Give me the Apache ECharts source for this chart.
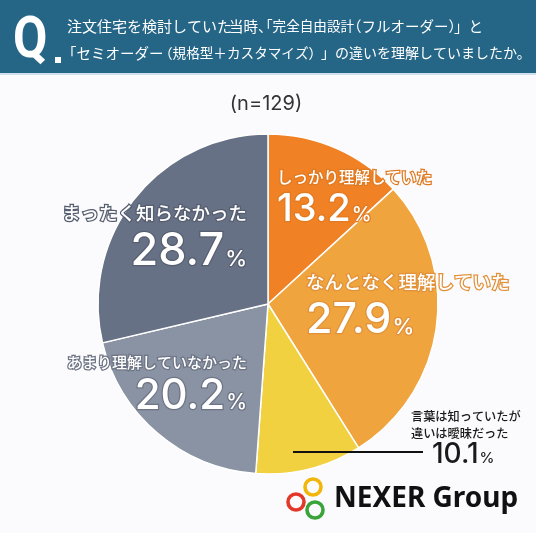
<!DOCTYPE html>
<html><head><meta charset="utf-8">
<script src="https://cdn.jsdelivr.net/npm/echarts@6/dist/echarts.min.js"></script>
<style>html,body{margin:0;padding:0;background:#fbfbfd}#c{width:536px;height:533px}</style>
</head><body><div id="c"></div>
<script>
const categories = ['しっかり理解していた', 'なんとなく理解していた', '言葉は知っていたが\n違いは曖昧だった', 'あまり理解していなかった', 'まったく知らなかった'];
const values = [13.2, 27.9, 10.1, 20.2, 28.7];
const sliceColors = ['#f08124', '#f0a43d', '#f1d140', '#8a93a3', '#677186'];
const questionLine1 = ['注文住宅を検討していた', '当時、', '「完全自由設計', '（フルオーダー）', '」と'];
const questionLine2 = ['「セミオーダー', '（規格型＋カスタマイズ）', '」の違いを理解していましたか。'];
const sampleText = '(n=129)';
const brandText = 'NEXER Group';

const JP = '"Noto Sans CJK JP", "Noto Sans", sans-serif';
const NUM = 'Inter, "Noto Sans", sans-serif';

// label placement (style only)
const labelPos = [
  {x: 277, y: 164, align: 'left',  ns: 15.5, nlh: 26, vs: 38, vlh: 40, ps: 20, border: '#e07a22', color: '#fff'},
  {x: 306, y: 267, align: 'left',  ns: 18.5, nlh: 30, vs: 43, vlh: 46, ps: 22, border: '#e0913a', color: '#fff'},
  {x: 411, y: 407.5, align: 'left', ns: 12.2, nlh: 17, vs: 28, vlh: 27, ps: 15, border: null, color: '#1a1a1a', pad: 21},
  {x: 247, y: 350, align: 'right', ns: 15, nlh: 24, vs: 42, vlh: 44, ps: 21, border: '#6d7485', color: '#fff'},
  {x: 247, y: 199, align: 'right', ns: 18.5, nlh: 28, vs: 45, vlh: 48, ps: 22, border: '#565e70', color: '#fff'}
];
// header segment placement (style only)
const line1X = [67, 229, 259, 347, 454];
const line1S = [15, 14.5, 13.6, 14.5, 14.5];
const line2X = [62, 159, 321];
const line2S = [14.5, 13.6, 14];

const data = categories.map((name, i) => {
  const p = labelPos[i];
  const b = p.border ? {textBorderColor: p.border, textBorderWidth: 2.5} : {};
  return {
    name: name,
    value: values[i],
    itemStyle: {color: sliceColors[i]},
    label: {
      formatter: (params) => {
        const lines = params.name.split('\n').map(s => '{n|' + s + '}').join('\n');
        return lines + '\n{v|' + params.value.toFixed(1) + '}{p|%}';
      },
      rich: {
        n: Object.assign({fontFamily: JP, fontSize: p.ns, lineHeight: p.nlh, color: p.color, fontWeight: 500}, b),
        v: Object.assign({fontFamily: NUM, fontSize: p.vs, lineHeight: p.vlh, color: p.color, fontWeight: 500, padding: [0, 0, 0, p.pad || 0]}, b),
        p: Object.assign({fontFamily: NUM, fontSize: p.ps, lineHeight: p.vlh, color: p.color, fontWeight: 500, verticalAlign: 'bottom', padding: [0, 0, Math.round(p.vs * 0.12), 1]}, b)
      }
    }
  };
});

const headerText = (t, x, y, s) => ({
  type: 'text', x: x, y: y,
  style: {text: t, font: s + 'px ' + JP, fill: '#fff', textVerticalAlign: 'middle'}, z: 11
});
const headerTexts = questionLine1.map((t, i) => headerText(t, line1X[i], 26, line1S[i]))
  .concat(questionLine2.map((t, i) => headerText(t, line2X[i], 53, line2S[i])));

const chart = echarts.init(document.getElementById('c'), null, {renderer: 'canvas'});
chart.setOption({
  backgroundColor: '#fbfbfd',
  animation: false,
  series: [{
    type: 'pie',
    center: [268, 304],
    radius: [0, 170],
    startAngle: 90,
    clockwise: true,
    avoidLabelOverlap: false,
    itemStyle: {borderColor: '#ffffff', borderWidth: 1.5},
    label: {show: true, position: 'inside'},
    labelLine: {show: false},
    labelLayout: (params) => {
      const p = labelPos[params.dataIndex];
      return {x: p.x, y: p.y, align: p.align, verticalAlign: 'top', hideOverlap: false};
    },
    data: data
  }],
  graphic: [
    {type: 'rect', shape: {x: 0, y: 0, width: 536, height: 73}, style: {fill: '#256687'}, z: 10},
    {type: 'rect', shape: {x: 0, y: 73, width: 536, height: 2}, style: {fill: '#cfe0ea'}, z: 10},
    {type: 'text', x: 13, y: 42, scaleX: 0.86, style: {text: 'Q', font: 'bold 58px Roboto, "Noto Sans", sans-serif', fill: '#fff', textVerticalAlign: 'middle'}, z: 11},
    {type: 'rect', shape: {x: 55, y: 57, width: 6, height: 6}, style: {fill: '#fff'}, z: 11}
  ].concat(headerTexts).concat([
    {type: 'text', x: 266, y: 104, style: {text: sampleText, font: '20px ' + NUM, fill: '#333', textAlign: 'center', textVerticalAlign: 'middle'}, z: 11},
    {type: 'line', shape: {x1: 293, y1: 452, x2: 423, y2: 452}, style: {stroke: '#111', lineWidth: 2}, z: 11},
    {type: 'circle', shape: {cx: 313, cy: 487, r: 8}, style: {fill: 'none', stroke: '#f2b50a', lineWidth: 3.6}, z: 11},
    {type: 'circle', shape: {cx: 296, cy: 502, r: 8}, style: {fill: 'none', stroke: '#e2382a', lineWidth: 3.6}, z: 11},
    {type: 'circle', shape: {cx: 315, cy: 510, r: 8}, style: {fill: 'none', stroke: '#3aa43a', lineWidth: 3.6}, z: 11},
    {type: 'text', x: 334, y: 499, style: {text: brandText, font: 'bold 28px "Noto Sans", sans-serif', fill: '#111', textVerticalAlign: 'middle'}, z: 11}
  ])
});
</script>
</body></html>
